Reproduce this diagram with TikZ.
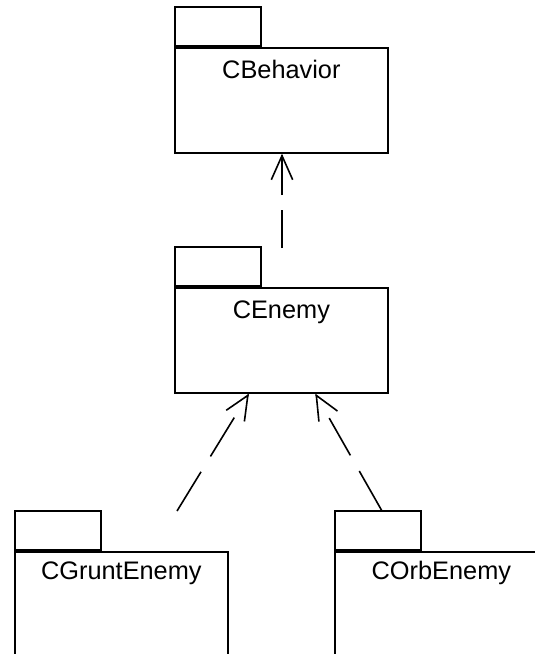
\documentclass[tikz,border=0pt]{standalone}
\usepackage{fontspec}
\setmainfont{Liberation Sans}
\usetikzlibrary{arrows.meta,calc}

\tikzset{
  pkgbody/.style={draw, line width=1.3pt, minimum width=159.75pt, minimum height=78.75pt,
    inner sep=0pt, anchor=north west},
  pkgtab/.style={draw, line width=1.3pt, minimum width=64.5pt, minimum height=29.25pt,
    inner sep=0pt, anchor=south west},
  pkgname/.style={anchor=base, font=\fontsize{19pt}{21pt}\selectfont, inner sep=0pt},
  depline/.style={line width=1.2pt, dash pattern=on 34.5pt off 13.5pt},
  deplineshort/.style={line width=1.2pt, dash pattern=on 28.5pt off 11.25pt},
  dephead/.style={line width=1.2pt, -{Straight Barb[length=18pt,width=16pt,line width=1.2pt]}}
}

\begin{document}
\begin{tikzpicture}[x=0.75pt,y=-0.75pt]
\useasboundingbox (0,0) rectangle (535,654);
\clip (0,0) rectangle (535,654);

% package bodies with their tabs
\node[pkgbody] (beh) at (174,47) {};
\node[pkgtab] (behtab) at (beh.north west) {};
\node[pkgname] (behname) at ($(beh.north)+(0,31)$) {CBehavior};

\node[pkgbody] (enemy) at (174,287) {};
\node[pkgtab] (enemytab) at (enemy.north west) {};
\node[pkgname] (enemyname) at ($(enemy.north)+(0,31)$) {CEnemy};

\node[pkgbody] (grunt) at (14,551) {};
\node[pkgtab] (grunttab) at (grunt.north west) {};
\node[pkgname] (gruntname) at ($(grunt.north)+(0,28)$) {CGruntEnemy};

\node[pkgbody] (orb) at (334,551) {};
\node[pkgtab] (orbtab) at (orb.north west) {};
\node[pkgname] (orbname) at ($(orb.north)+(0,28)$) {COrbEnemy};

% dependency ends
\coordinate (esrc) at (282,248);
\coordinate (gsrc) at (177,511);
\coordinate (osrc) at (382,511);
\coordinate (etip) at (esrc |- beh.south);
\coordinate (gtip) at ($(enemy.south)+(-32.5,0)$);
\coordinate (otip) at ($(enemy.south)+(34,0)$);

% dashed shafts
\draw[deplineshort] (esrc) -- (etip);
\draw[depline] (gsrc) -- ($(gtip)!21pt!(gsrc)$);
\draw[depline] (osrc) -- ($(otip)!21pt!(osrc)$);

% open arrowheads, drawn solid
\draw[dephead] ($(etip)!1pt!(esrc)$) -- (etip);
\draw[dephead] ($(gtip)!1pt!(gsrc)$) -- (gtip);
\draw[dephead] ($(otip)!1pt!(osrc)$) -- (otip);
\end{tikzpicture}
\end{document}
